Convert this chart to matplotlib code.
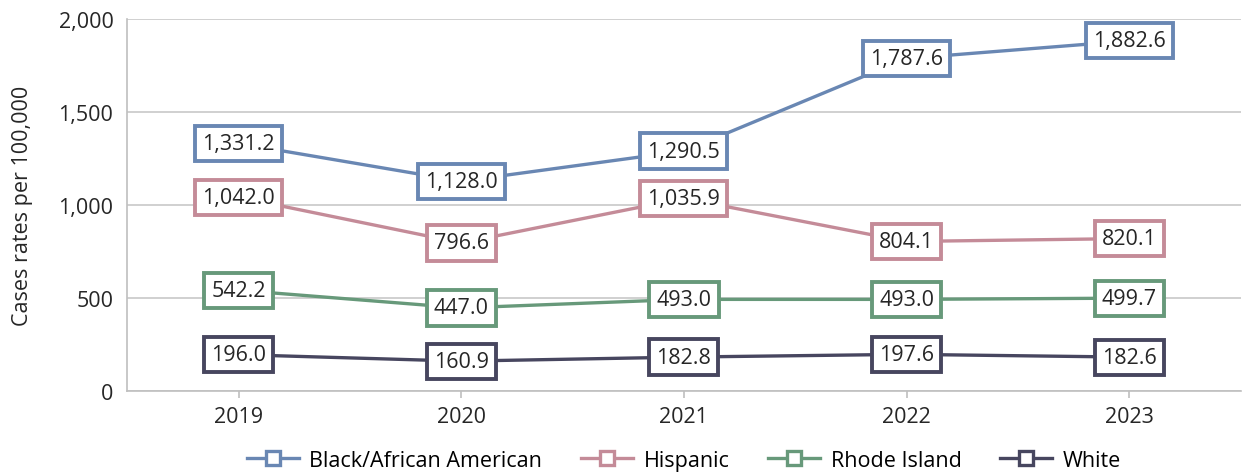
import numpy as np
import matplotlib.pyplot as plt

plt.rcParams['font.family'] = ['Open Sans', 'DejaVu Sans']

years = ["2019", "2020", "2021", "2022", "2023"]
black = [1331.2, 1128.0, 1290.5, 1787.6, 1882.6]
hispanic = [1042.0, 796.6, 1035.9, 804.1, 820.1]
rhode_island = [542.2, 447.0, 493.0, 493.0, 499.7]
white = [196.0, 160.9, 182.8, 197.6, 182.6]

series = [
    ("Black/African American", black, "#6987B3"),
    ("Hispanic", hispanic, "#C48B98"),
    ("Rhode Island", rhode_island, "#67997A"),
    ("White", white, "#47465F"),
]

fig = plt.figure(figsize=(12.48, 4.77), dpi=100)
ax = fig.add_axes([0.102, 0.178, 0.892, 0.78])

x = np.arange(len(years))
for name, vals, col in series:
    ax.plot(x, vals, color=col, lw=2.4, marker="s", ms=10, mfc="white",
            mec=col, mew=2.4, label=name, zorder=3)
    for xi, v in zip(x, vals):
        ax.annotate(f"{v:,.1f}", (xi, v), ha="center", va="center",
                    fontsize=15.5, color="#262626", zorder=5,
                    bbox=dict(boxstyle="square,pad=0.33", fc="white",
                              ec=col, lw=2.8))

ax.set_xlim(-0.5, 4.5)
ax.set_ylim(0, 2000)
ax.set_yticks([0, 500, 1000, 1500, 2000])
ax.set_yticklabels([f"{t:,}" for t in [0, 500, 1000, 1500, 2000]])
ax.set_xticks(x)
ax.set_xticklabels(years)
ax.tick_params(axis="y", length=0, labelsize=15.5, colors="#262626", pad=10)
ax.tick_params(axis="x", length=5, color="#BFBFBF", labelsize=15.5,
               labelcolor="#262626", width=1.2, pad=6)
ax.grid(axis="y", color="#C8C8C8", lw=1.2)
ax.set_axisbelow(True)
for s in ["top", "right"]:
    ax.spines[s].set_visible(False)
for s in ["left", "bottom"]:
    ax.spines[s].set_color("#BFBFBF")
    ax.spines[s].set_linewidth(1.2)
ax.set_ylabel("Cases rates per 100,000", fontsize=15.5, color="#262626", labelpad=18)

ax.legend(loc="upper center", bbox_to_anchor=(0.5, -0.105), ncol=4,
          frameon=False, fontsize=15.5, handlelength=2.4, columnspacing=1.8,
          handletextpad=0.5)

fig.savefig("out.png", dpi=100)
